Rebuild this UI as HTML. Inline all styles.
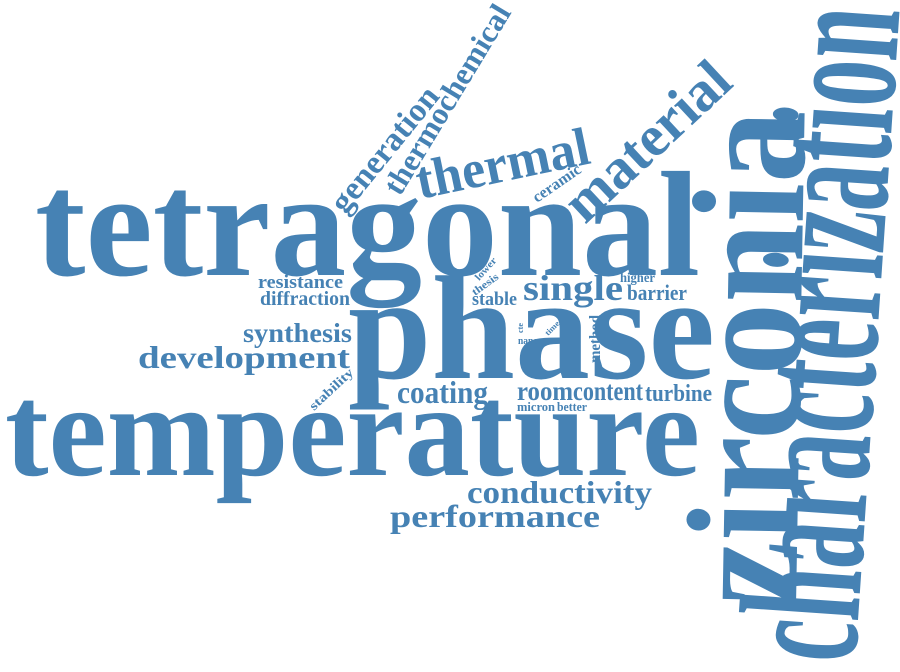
<!DOCTYPE html>
<html><head><meta charset="utf-8"><style>
html,body{margin:0;padding:0;background:#fff;}
svg{display:block;}
text{font-family:"Liberation Serif",serif;font-weight:bold;fill:#4682b4;}
</style></head><body>
<svg width="900" height="672" viewBox="0 0 900 672">
<text x="35" y="275" font-size="150" textLength="665" lengthAdjust="spacingAndGlyphs">tetragonal</text>
<text x="5" y="475" font-size="132" textLength="695" lengthAdjust="spacingAndGlyphs">temperature</text>
<text x="348" y="378" font-size="148" textLength="367" lengthAdjust="spacingAndGlyphs">phase</text>
<text transform="translate(796,606) rotate(-89)" font-size="160" textLength="495" lengthAdjust="spacingAndGlyphs">zirconia</text>
<text transform="translate(855,664) rotate(-86.1)" font-size="172" textLength="655" lengthAdjust="spacingAndGlyphs">characterization</text>
<text transform="translate(345,215) rotate(-51)" font-size="33" textLength="152" lengthAdjust="spacingAndGlyphs">generation</text>
<text transform="translate(400,197) rotate(-58.8)" font-size="31" textLength="216" lengthAdjust="spacingAndGlyphs">thermochemical</text>
<text transform="translate(420,199) rotate(-11.8)" font-size="54" textLength="176" lengthAdjust="spacingAndGlyphs">thermal</text>
<text transform="translate(537,203) rotate(-34.6)" font-size="16" textLength="55" lengthAdjust="spacingAndGlyphs">ceramic</text>
<text transform="translate(585,225) rotate(-43)" font-size="58" textLength="205" lengthAdjust="spacingAndGlyphs">material</text>
<text x="258" y="288" font-size="19" textLength="85" lengthAdjust="spacingAndGlyphs">resistance</text>
<text x="260" y="305" font-size="20" textLength="90" lengthAdjust="spacingAndGlyphs">diffraction</text>
<text x="243" y="342" font-size="27" textLength="109" lengthAdjust="spacingAndGlyphs">synthesis</text>
<text x="138" y="368" font-size="32" textLength="212" lengthAdjust="spacingAndGlyphs">development</text>
<text transform="translate(314,411) rotate(-43)" font-size="13" textLength="55" lengthAdjust="spacingAndGlyphs">stability</text>
<text x="397" y="403" font-size="32" textLength="91" lengthAdjust="spacingAndGlyphs">coating</text>
<text transform="translate(479,281) rotate(-48)" font-size="10" textLength="27" lengthAdjust="spacingAndGlyphs">lower</text>
<text transform="translate(475,296) rotate(-36)" font-size="11" textLength="30" lengthAdjust="spacingAndGlyphs">thesis</text>
<text x="472" y="305" font-size="19" textLength="45" lengthAdjust="spacingAndGlyphs">stable</text>
<text x="523" y="300" font-size="36" textLength="100" lengthAdjust="spacingAndGlyphs">single</text>
<text x="620" y="282" font-size="14" textLength="35" lengthAdjust="spacingAndGlyphs">higher</text>
<text x="627" y="300" font-size="22" textLength="60" lengthAdjust="spacingAndGlyphs">barrier</text>
<text transform="translate(523,333) rotate(-90)" font-size="8" textLength="10" lengthAdjust="spacingAndGlyphs">cte</text>
<text transform="translate(548,336) rotate(-45)" font-size="8" textLength="17" lengthAdjust="spacingAndGlyphs">time</text>
<text x="518" y="344" font-size="10" textLength="20" lengthAdjust="spacingAndGlyphs">nano</text>
<text transform="translate(600,363) rotate(-90)" font-size="16" textLength="48" lengthAdjust="spacingAndGlyphs">method</text>
<text x="517" y="400" font-size="27" textLength="56" lengthAdjust="spacingAndGlyphs">room</text>
<text x="573" y="400" font-size="27" textLength="70" lengthAdjust="spacingAndGlyphs">content</text>
<text x="645" y="401" font-size="24" textLength="67" lengthAdjust="spacingAndGlyphs">turbine</text>
<text x="517" y="411" font-size="13" textLength="38" lengthAdjust="spacingAndGlyphs">micron</text>
<text x="557" y="411" font-size="13" textLength="30" lengthAdjust="spacingAndGlyphs">better</text>
<text x="467" y="503" font-size="32" textLength="185" lengthAdjust="spacingAndGlyphs">conductivity</text>
<text x="390" y="527" font-size="32" textLength="210" lengthAdjust="spacingAndGlyphs">performance</text>
</svg>
</body></html>
